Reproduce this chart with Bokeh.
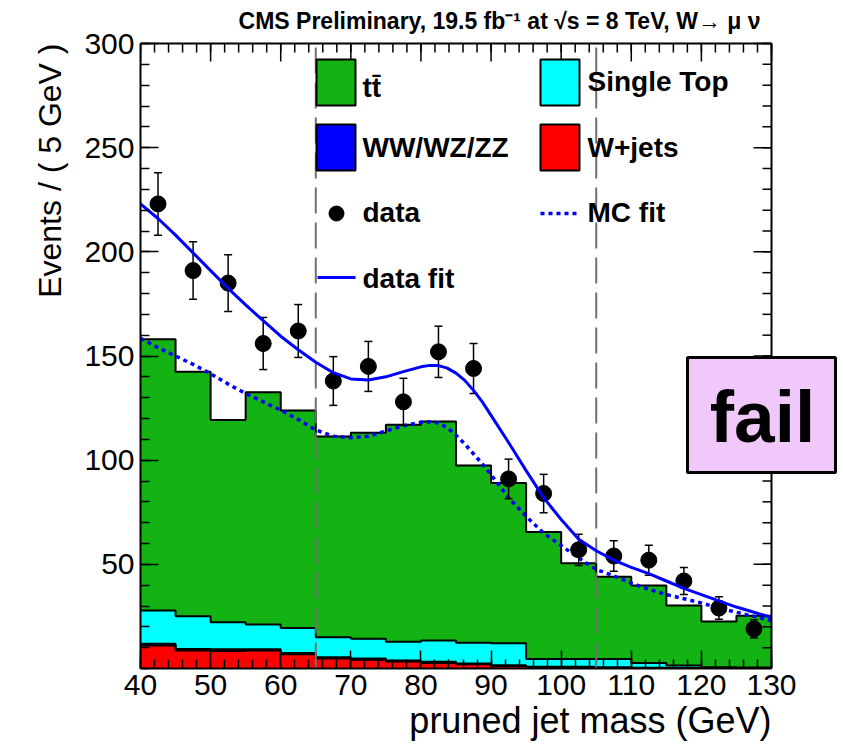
import numpy as np
from bokeh.plotting import figure
from bokeh.models import Label, FixedTicker, Range1d, Title
from bokeh.embed import file_html
from bokeh.resources import INLINE

# ---------------- data ----------------
bin_centers = [42.5, 47.5, 52.5, 57.5, 62.5, 67.5, 72.5, 77.5, 82.5, 87.5,
               92.5, 97.5, 102.5, 107.5, 112.5, 117.5, 122.5, 127.5]
bin_width = 5.0
wjets     = [11.0, 8.6, 8.4, 8.6, 6.8, 4.8, 4.2, 3.4, 2.7, 2.0, 1.2, 0.6, 0.5, 0.3, 0.2, 0.1, 0.1, 0.1]
diboson   = [0.9, 0.8, 0.8, 0.7, 0.7, 0.6, 0.6, 0.5, 0.5, 0.4, 0.4, 0.3, 0.3, 0.3, 0.2, 0.2, 0.2, 0.2]
singletop = [15.9, 15.7, 13.0, 11.8, 12.0, 9.6, 9.5, 8.9, 10.2, 10.0, 10.5, 3.7, 3.8, 4.0, 2.2, 1.1, 0.3, 0.2]
ttbar     = [130.2, 117.3, 97.1, 111.5, 104.4, 96.4, 98.9, 104.2, 105.2, 85.1, 76.9, 60.9, 45.9, 39.5, 37.2, 28.9, 22.0, 24.8]
data_counts = [223, 191, 185, 156, 162, 138, 145, 128, 152, 144, 91, 84, 57, 54, 52, 42, 29, 19]
data_err    = [15.0, 13.8, 13.6, 12.5, 12.7, 11.7, 12.0, 11.3, 12.3, 12.0, 9.5, 9.2, 7.5, 7.3, 7.2, 6.5, 5.4, 4.4]
fit_x    = [40, 42.5, 45, 47.5, 50, 52.5, 55, 57.5, 60, 62.5, 65, 67.5, 70, 72.5, 75, 77.5, 80, 81.25,
            82.5, 83.75, 85, 86.25, 87.5, 88.75, 90, 92.5, 95, 97.5, 100, 102.5, 105, 107.5, 110, 112.5,
            115, 117.5, 120, 122.5, 125, 127.5, 130]
data_fit = [223, 216, 208, 199.5, 191, 182.5, 174.5, 167, 159.5, 153, 147, 142, 139, 138.5, 140, 142.5,
            144.8, 145.5, 145.4, 144.2, 141.8, 138.3, 133.5, 128, 121.5, 108.5, 95, 82, 71.5, 62, 56.5,
            52, 48.5, 45.5, 42, 38.5, 35.5, 32.5, 29.5, 27, 24.5]
mc_fit   = [158.5, 154, 150, 146, 141.5, 136.5, 132, 128, 124, 119.5, 114.5, 111.5, 110.8, 111.5, 114,
            116.5, 118.2, 118.4, 117.8, 115.6, 112, 107.8, 103, 98.2, 93, 82, 73, 65, 59, 53, 47.5, 44.5,
            41, 38, 35.5, 33.5, 31.5, 29, 27, 25, 23]
window_edges = [65, 105]
x_ticks = [40, 50, 60, 70, 80, 90, 100, 110, 120, 130]
y_ticks = [50, 100, 150, 200, 250, 300]
x_minor = list(range(40, 131, 2))
y_minor = list(range(0, 301, 10))

title_text = "CMS Preliminary, 19.5 fb\u207b\u00b9 at \u221as = 8 TeV, W\u2192 \u03bc \u03bd"

# ---------------- layout ----------------
W, H = 843, 748
FL, FR, FT, FB = 140, 771, 43, 668          # the drawn (ROOT) frame
XMIN, XMAX, YMIN, YMAX = 40.0, 130.0, 0.0, 300.0
SX = (XMAX - XMIN) / (FR - FL)               # data units per pixel
SY = (YMAX - YMIN) / (FB - FT)

def px_x(px):
    return XMIN + (px - FL) * SX

def px_y(py):
    return YMIN + (FB - py) * SY

GREEN, CYAN, BLUE, RED = "#13b313", "#00ffff", "#0000ff", "#ff0000"
FONT = "Liberation Sans"

# bokeh frame extends to the top and right canvas edges so that the title and the
# "fail" box (which sticks out of the ROOT frame) can be drawn
p = figure(width=W, height=H, x_range=Range1d(XMIN, px_x(W)), y_range=Range1d(YMIN, px_y(0)),
           output_backend="svg", toolbar_location=None, title=None,
           min_border_left=FL, min_border_right=0, min_border_top=0, min_border_bottom=H - FB)
p.background_fill_color = "white"
p.border_fill_color = "white"
p.outline_line_color = None
p.xgrid.visible = False
p.ygrid.visible = False

MAJ, MIN = 18, 9

def style_axis(ax, ticks, minor, bounds):
    ax.ticker = FixedTicker(ticks=ticks, minor_ticks=minor)
    ax.bounds = bounds
    ax.major_tick_in = MAJ
    ax.major_tick_out = 0
    ax.minor_tick_in = MIN
    ax.minor_tick_out = 0
    ax.major_tick_line_color = "black"
    ax.minor_tick_line_color = "black"
    ax.major_tick_line_width = 1.5
    ax.minor_tick_line_width = 1.5
    ax.axis_line_color = "black"
    ax.axis_line_width = 2
    ax.major_label_text_font = FONT
    ax.major_label_text_font_size = "30px"
    ax.major_label_text_color = "black"

style_axis(p.xaxis[0], x_ticks, x_minor, (XMIN, XMAX))
p.xaxis[0].major_label_standoff = 6
style_axis(p.yaxis[0], y_ticks, y_minor, (YMIN, YMAX))
p.yaxis[0].major_label_standoff = 6

# axis titles (ROOT puts them at the far end of each axis)
xt = Title(text="pruned jet mass (GeV)", align="right", offset=W - FR, text_font=FONT,
           text_font_size="36px", text_font_style="normal", text_color="black")
yt = Title(text="Events / ( 5 GeV )", align="right", offset=FT, text_font=FONT,
           text_font_size="32px", text_font_style="normal", text_color="black")
for t, s in [(xt, 0), (yt, 27)]:
    try:
        t.standoff = s
    except Exception:
        pass
p.add_layout(xt, "below")
p.add_layout(yt, "left")

# ---------------- stacked histograms ----------------
c = np.array(bin_centers)
l1 = np.array(wjets)
l2 = l1 + np.array(diboson)
l3 = l2 + np.array(singletop)
l4 = l3 + np.array(ttbar)
zero = np.zeros_like(l1)
for lo, hi, col in [(zero, l1, RED), (l1, l2, BLUE), (l2, l3, CYAN), (l3, l4, GREEN)]:
    p.vbar(x=c, width=bin_width, bottom=lo, top=hi, fill_color=col, line_color=col, line_width=1)

xs_step = list(c - bin_width / 2) + [c[-1] + bin_width / 2]
for lev in [l1, l2, l3, l4]:
    p.step(x=xs_step, y=list(lev) + [lev[-1]], mode="after", line_color="black", line_width=2)

# window lines
for xe in window_edges:
    p.line(x=[xe, xe], y=[YMIN, YMAX], line_color="#707070", line_width=2, line_dash="26 9")

# MC fit
p.line(x=fit_x, y=mc_fit, line_color=BLUE, line_width=3.5, line_dash="4 4")

# data points
d = np.array(data_counts, dtype=float)
e = np.array(data_err)
cap = 4 * SX
p.segment(x0=c, y0=d - e, x1=c, y1=d + e, line_color="black", line_width=1.5)
p.segment(x0=c - cap, y0=d + e, x1=c + cap, y1=d + e, line_color="black", line_width=1.5)
p.segment(x0=c - cap, y0=d - e, x1=c + cap, y1=d - e, line_color="black", line_width=1.5)
p.scatter(x=c, y=d, size=16, fill_color="black", line_color="black")

# data fit
p.line(x=fit_x, y=data_fit, line_color=BLUE, line_width=3)

# ---------------- top / right frame edges with mirrored ticks ----------------
p.line(x=[XMIN, XMAX], y=[YMAX, YMAX], line_color="black", line_width=2)
p.line(x=[XMAX, XMAX], y=[YMIN, YMAX], line_color="black", line_width=2)
xt_major = np.array(x_ticks, dtype=float)
xt_minor = np.array(x_minor, dtype=float)
yt_major = np.array(y_ticks, dtype=float)
yt_minor = np.array(y_minor, dtype=float)
p.segment(x0=xt_major, x1=xt_major, y0=YMAX, y1=YMAX - MAJ * SY, line_color="black", line_width=1.5)
p.segment(x0=xt_minor, x1=xt_minor, y0=YMAX, y1=YMAX - MIN * SY, line_color="black", line_width=1.5)
p.segment(x0=XMAX, x1=XMAX - MAJ * SX, y0=yt_major, y1=yt_major, line_color="black", line_width=1.5)
p.segment(x0=XMAX, x1=XMAX - MIN * SX, y0=yt_minor, y1=yt_minor, line_color="black", line_width=1.5)

# ---------------- legend ----------------
def box(x0, x1, y0, y1, col, lw=2):
    p.quad(left=px_x(x0), right=px_x(x1), top=px_y(y0), bottom=px_y(y1),
           fill_color=col, line_color="black", line_width=lw)

box(316, 355, 59, 105, GREEN)
box(540, 579, 59, 105, CYAN)
box(316, 355, 124, 170, BLUE)
box(540, 579, 124, 170, RED)
p.scatter(x=[px_x(336)], y=[px_y(213)], size=15, fill_color="black", line_color="black")
p.line(x=[px_x(540), px_x(578)], y=[px_y(213)] * 2, line_color=BLUE, line_width=3.5, line_dash="4 4")
p.line(x=[px_x(317), px_x(355)], y=[px_y(277)] * 2, line_color=BLUE, line_width=3)

def lab(text, px, py, size, bold=False, align="left", baseline="middle", font=FONT):
    p.add_layout(Label(x=px_x(px), y=px_y(py), text=text, text_font=font, text_font_size=size,
                       text_font_style="bold" if bold else "normal", text_align=align,
                       text_baseline=baseline, text_color="black"))

for t, x, y in [("tt\u0304", 362, 87), ("Single Top", 587, 80.5),
                ("WW/WZ/ZZ", 362, 146.5), ("W+jets", 587, 146.5),
                ("data", 362, 212), ("MC fit", 587, 212), ("data fit", 362, 278)]:
    lab(t, x, y, "28px", bold=True)

# fail box
box(687, 835, 357, 472, "#f0c8fa", lw=3)
lab("fail", 762, 416, "73px", bold=True, align="center")

# title
lab(title_text, 760, 20, "23px", bold=True, align="right")

open("out.html", "w").write(file_html(p, INLINE))
